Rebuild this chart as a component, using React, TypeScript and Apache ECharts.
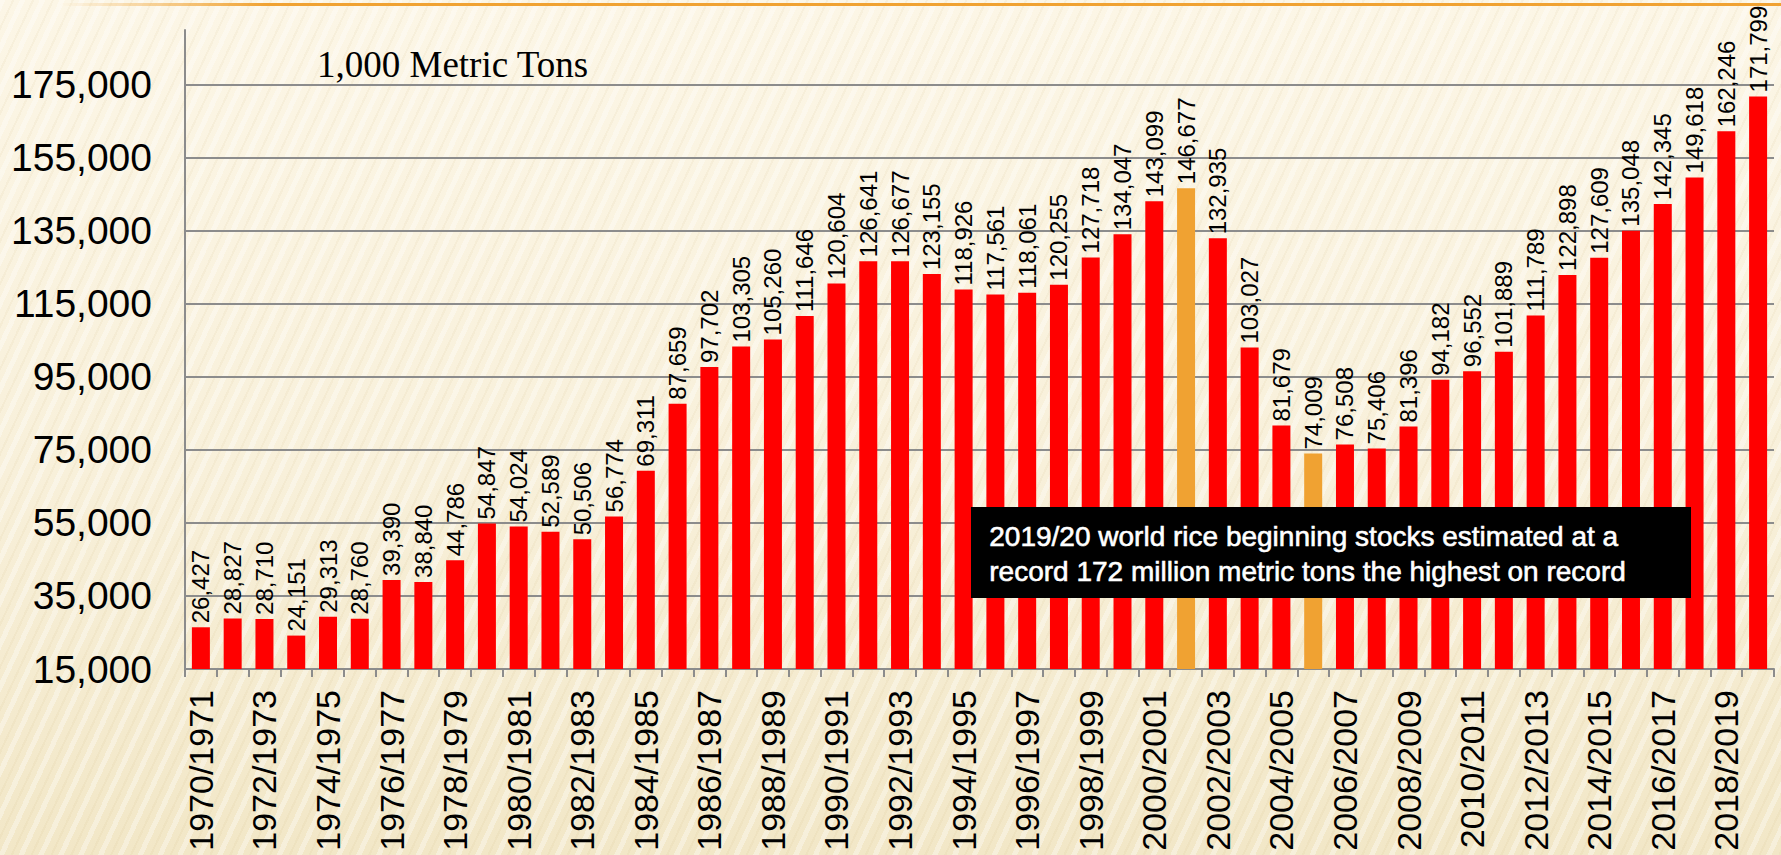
import React, { useEffect, useRef } from "react";
import * as echarts from "echarts";

const categories = [
  "1970/1971", "1971/1972", "1972/1973", "1973/1974", "1974/1975", "1975/1976", "1976/1977", "1977/1978", "1978/1979", "1979/1980",
  "1980/1981", "1981/1982", "1982/1983", "1983/1984", "1984/1985", "1985/1986", "1986/1987", "1987/1988", "1988/1989", "1989/1990",
  "1990/1991", "1991/1992", "1992/1993", "1993/1994", "1994/1995", "1995/1996", "1996/1997", "1997/1998", "1998/1999", "1999/2000",
  "2000/2001", "2001/2002", "2002/2003", "2003/2004", "2004/2005", "2005/2006", "2006/2007", "2007/2008", "2008/2009", "2009/2010",
  "2010/2011", "2011/2012", "2012/2013", "2013/2014", "2014/2015", "2015/2016", "2016/2017", "2017/2018", "2018/2019", "2019/2020",
];

const stocks = [
  26427, 28827, 28710, 24151, 29313, 28760, 39390, 38840, 44786, 54847,
  54024, 52589, 50506, 56774, 69311, 87659, 97702, 103305, 105260, 111646,
  120604, 126641, 126677, 123155, 118926, 117561, 118061, 120255, 127718, 134047,
  143099, 146677, 132935, 103027, 81679, 74009, 76508, 75406, 81396, 94182,
  96552, 101889, 111789, 122898, 127609, 135048, 142345, 149618, 162246, 171799,
];

const highlighted = ["2001/2002", "2005/2006"];

const yTicks = [15000, 35000, 55000, 75000, 95000, 115000, 135000, 155000, 175000];
const yMax = 190000;

const unitLabel = "1,000 Metric Tons";
const noteLines = [
  "2019/20 world rice beginning stocks estimated at a",
  "record 172 million metric tons the highest on record",
];

const RED = "#ff0000";
const ORANGE = "#f0a232";
const GRID_GRAY = "#8c8c8c";

const fmt = (v: number) => Number(v).toLocaleString("en-US");

export default function App() {
  const ref = useRef<HTMLDivElement>(null);

  useEffect(() => {
    if (!ref.current) return;
    const chart = echarts.init(ref.current, null, { renderer: "svg" });

    const data = stocks.map((v, i) => ({
      value: v,
      itemStyle: { color: highlighted.includes(categories[i]) ? ORANGE : RED },
    }));

    chart.setOption({
      animation: false,
      backgroundColor: "transparent",
      grid: { left: 185, right: 7, top: 30, bottom: 186, containLabel: false },
      xAxis: {
        type: "category",
        data: categories,
        axisLine: { show: true, lineStyle: { color: GRID_GRAY, width: 2 } },
        axisTick: { show: true, interval: 0, length: 8, lineStyle: { color: GRID_GRAY, width: 2 } },
        axisLabel: {
          interval: 1,
          rotate: 90,
          margin: 21,
          fontSize: 34,
          color: "#000",
          fontFamily: "Liberation Sans, Arial, sans-serif",
        },
      },
      yAxis: {
        type: "value",
        min: yTicks[0],
        max: yMax,
        interval: yTicks[1] - yTicks[0],
        splitLine: { show: false },
        axisTick: { show: false },
        axisLine: { show: true, lineStyle: { color: GRID_GRAY, width: 2 } },
        axisLabel: {
          showMaxLabel: false,
          margin: 33,
          fontSize: 39,
          color: "#000",
          fontFamily: "Liberation Sans, Arial, sans-serif",
          formatter: (v: number) => fmt(v),
        },
      },
      series: [
        {
          type: "bar",
          data,
          barWidth: 18,
          z: 2,
          label: {
            show: true,
            position: "top",
            rotate: 90,
            align: "left",
            verticalAlign: "middle",
            distance: 4,
            fontSize: 24,
            color: "#000",
            fontFamily: "Liberation Sans, Arial, sans-serif",
            formatter: (p: any) => fmt(p.value),
          },
          markLine: {
            silent: true,
            z: 1,
            symbol: ["none", "none"],
            label: { show: false },
            lineStyle: { color: GRID_GRAY, width: 2, type: "solid" },
            data: yTicks.slice(1).map((t) => ({ yAxis: t })),
          },
        },
      ],
      graphic: [
        {
          type: "rect",
          left: 60,
          top: 3,
          z: 50,
          shape: { width: 1721, height: 3 },
          style: {
            fill: {
              type: "linear",
              x: 0, y: 0, x2: 1, y2: 0,
              colorStops: [
                { offset: 0, color: "rgba(240,162,50,0)" },
                { offset: 0.12, color: "rgba(240,162,50,1)" },
                { offset: 1, color: "rgba(240,162,50,1)" },
              ],
            },
          },
          silent: true,
        },
        {
          type: "text",
          left: 317,
          top: 46,
          z: 50,
          style: {
            text: unitLabel,
            fontSize: 37,
            fontFamily: "Liberation Serif, Times New Roman, serif",
            fill: "#000",
          },
          silent: true,
        },
        {
          type: "rect",
          left: 971,
          top: 507,
          z: 100,
          shape: { width: 720, height: 91 },
          style: { fill: "#000" },
          silent: true,
        },
        {
          type: "text",
          left: 989,
          top: 519,
          z: 101,
          style: {
            text: noteLines.join("\n"),
            fontSize: 28,
            lineHeight: 35,
            fontFamily: "Liberation Sans, Arial, sans-serif",
            fill: "#ffffff",
            stroke: "#ffffff",
            lineWidth: 0.6,
          },
          silent: true,
        },
      ],
    });

    return () => chart.dispose();
  }, []);

  return (
    <div
      style={{
        position: "fixed",
        left: 0,
        top: 0,
        width: 1781,
        height: 855,
        background:
          "repeating-linear-gradient(115deg, rgba(255,255,255,0.35) 0px, rgba(255,255,255,0.35) 5px, rgba(255,255,255,0) 5px, rgba(255,255,255,0) 11px, rgba(190,160,90,0.07) 11px, rgba(190,160,90,0.07) 13px, rgba(255,255,255,0) 13px, rgba(255,255,255,0) 18px), linear-gradient(180deg, #fcf6e6 0%, #f8f0da 55%, #f2e7c7 100%)",
      }}
    >
      <div ref={ref} style={{ width: 1781, height: 855 }} />
    </div>
  );
}
